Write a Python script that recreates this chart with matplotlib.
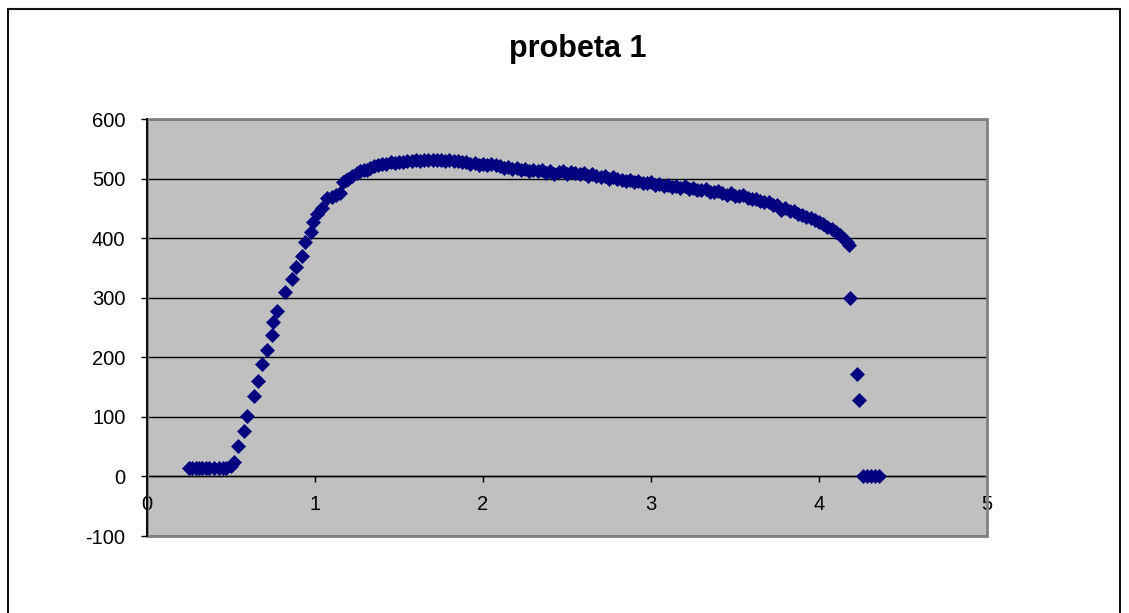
import matplotlib
matplotlib.use("Agg")
import matplotlib.pyplot as plt
from matplotlib.patches import Rectangle

plt.rcParams['font.family'] = ['Liberation Sans', 'DejaVu Sans']

# deformacion (mm) y carga de la probeta 1
deformacion = [0.25, 0.27, 0.29, 0.31, 0.33, 0.35, 0.37, 0.40, 0.43, 0.45,
               0.47, 0.50, 0.52, 0.544, 0.577, 0.597, 0.639, 0.663, 0.683, 0.716,
               0.746, 0.752, 0.776, 0.821, 0.861, 0.885, 0.925, 0.940, 0.974, 0.990,
               1.014, 1.040, 1.070, 1.099, 1.125, 1.149, 1.169, 1.185, 1.199, 1.22,
               1.248, 1.27, 1.29, 1.307, 1.33, 1.35,
               1.375, 1.400, 1.425, 1.450, 1.475, 1.500, 1.525, 1.550, 1.575, 1.600,
               1.625, 1.650, 1.675, 1.700, 1.725, 1.750, 1.775, 1.800, 1.825, 1.850,
               1.875, 1.900, 1.925, 1.950, 1.975, 2.000, 2.025, 2.050, 2.075, 2.100,
               2.125, 2.150, 2.175, 2.200, 2.225, 2.250, 2.275, 2.300, 2.325, 2.350,
               2.375, 2.400, 2.425, 2.450, 2.475, 2.500, 2.525, 2.550, 2.575, 2.600,
               2.625, 2.650, 2.675, 2.700, 2.725, 2.750, 2.775, 2.800, 2.825, 2.850,
               2.875, 2.900, 2.925, 2.950, 2.975, 3.000, 3.025, 3.050, 3.075, 3.100,
               3.125, 3.150, 3.175, 3.200, 3.225, 3.250, 3.275, 3.300, 3.325, 3.350,
               3.375, 3.400, 3.425, 3.450, 3.475, 3.500, 3.525, 3.550, 3.575, 3.600,
               3.625, 3.650, 3.675, 3.700, 3.725, 3.750, 3.775, 3.800, 3.825, 3.850,
               3.875, 3.900, 3.925, 3.950, 3.975, 4.000, 4.025, 4.050, 4.075, 4.100,
               4.125, 4.150, 4.165, 4.180,
               4.185, 4.224, 4.238, 4.26, 4.285, 4.31, 4.335, 4.36]
carga = [14, 14, 14, 14, 14, 14, 14, 14, 14, 14,
         14, 18, 24, 51, 77, 101, 135, 160, 188, 213,
         238, 259, 277, 309, 332, 351, 370, 393, 411, 427,
         440, 451, 467, 469, 472, 475, 495, 497, 500, 504,
         510, 512, 514, 515, 518, 521,
         523, 525, 524, 527, 526, 528, 527, 530, 529, 531,
         530, 532, 531, 532, 531, 532, 530, 531, 529, 530,
         527, 528, 525, 526, 523, 524, 522, 525, 523, 521,
         518, 519, 516, 517, 514, 516, 513, 515, 512, 514,
         510, 513, 508, 511, 512, 508, 511, 510, 507, 509,
         505, 507, 504, 502, 505, 500, 502, 499, 498, 496,
         498, 494, 496, 493, 492, 494, 489, 491, 488, 490,
         486, 488, 485, 487, 483, 485, 481, 480, 482, 478,
         477, 479, 475, 473, 475, 471, 470, 472, 468, 466,
         466, 462, 460, 460, 455, 455, 448, 451, 446, 445,
         441, 439, 436, 434, 430, 427, 424, 419, 415, 410,
         405, 398, 394, 389,
         300, 172, 128, 0, 0, 0, 0, 0]

x_ticks = [0, 1, 2, 3, 4, 5]
y_ticks = [-100, 0, 100, 200, 300, 400, 500, 600]

fig = plt.figure(figsize=(11.29, 6.13), dpi=100)
fig.patch.set_facecolor('white')

# marco exterior del grafico
fig.patches.append(Rectangle((8 / 1129, -0.1), 1112 / 1129, 1.1 - 9 / 613,
                             transform=fig.transFigure, fill=False,
                             edgecolor='#111111', lw=1.5))

ax = fig.add_axes([147 / 1129, 1 - 536 / 613, 840 / 1129, 417 / 613])
ax.set_facecolor('#C0C0C0')

ax.set_xlim(0, 5)
ax.set_ylim(-100, 600)
ax.set_xticks(x_ticks)
ax.set_yticks(y_ticks)
ax.set_xticklabels([str(v) for v in x_ticks])
ax.set_yticklabels([str(v) for v in y_ticks])

ax.yaxis.grid(True, color='black', lw=1)
ax.set_axisbelow(True)

for side in ['top', 'right']:
    ax.spines[side].set_visible(False)
ax.spines['left'].set_color('black')
ax.spines['left'].set_linewidth(1.3)
ax.spines['left'].set_zorder(4)
ax.spines['bottom'].set_position(('data', 0))
ax.spines['bottom'].set_color('black')
ax.spines['bottom'].set_linewidth(1.0)

# borde gris del area de trazado
ax.add_patch(Rectangle((0, 0), 1, 1, transform=ax.transAxes, fill=False,
                       edgecolor='#808080', lw=2, zorder=3, clip_on=False))

ax.tick_params(axis='both', direction='out', length=4.5, width=1,
               color='black', labelsize=14.5, labelcolor='black')
ax.tick_params(axis='y', pad=11)
ax.tick_params(axis='x', pad=9)

ax.plot(deformacion, carga, linestyle='none', marker='D', markersize=7.5,
        color='#000080', markeredgecolor='#000080', markeredgewidth=0.5,
        zorder=5, clip_on=False)

fig.text(578 / 1129, 1 - 49 / 613, 'probeta 1', ha='center', va='center',
         fontsize=22, fontweight='bold')

fig.savefig('out.png', dpi=100)
